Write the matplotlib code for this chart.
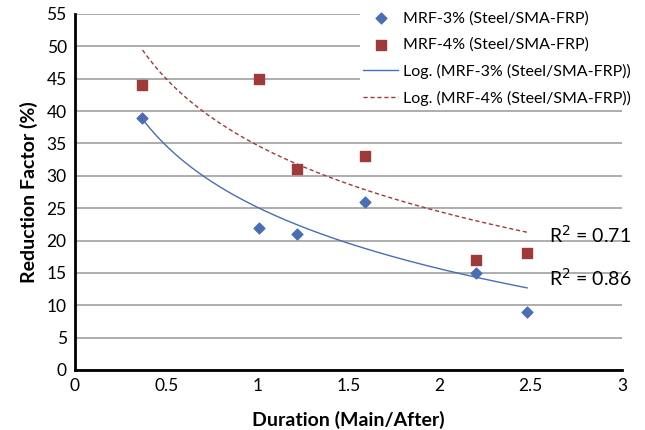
import numpy as np
import matplotlib
matplotlib.use('Agg')
import matplotlib.pyplot as plt

# data
duration = [0.37, 1.01, 1.22, 1.59, 2.2, 2.48]
mrf3 = [39, 22, 21, 26, 15, 9]
mrf4 = [44, 45, 31, 33, 17, 18]

yticks = list(range(0, 60, 5))
xticks = [0, 0.5, 1, 1.5, 2, 2.5, 3]
xtick_labels = ['0', '0.5', '1', '1.5', '2', '2.5', '3']

plt.rcParams['font.family'] = ['Lato', 'DejaVu Sans']

blue = '#4A6DB4'
red = '#9E3A38'


def log_fit(x, y):
    # Excel style log trendline: y = a*ln(x) + b
    lx = np.log(x)
    a, b = np.polyfit(lx, y, 1)
    pred = a * lx + b
    r2 = 1 - np.sum((np.array(y) - pred) ** 2) / np.sum((np.array(y) - np.mean(y)) ** 2)
    return a, b, r2


fig = plt.figure(figsize=(6.45, 4.3), dpi=100)
ax = fig.add_axes([75 / 645, 60 / 430, 547 / 645, 356 / 430])

ax.scatter(duration, mrf3, marker='D', s=30, color=blue, zorder=3,
           label='MRF-3% (Steel/SMA-FRP)')
ax.scatter(duration, mrf4, marker='s', s=55, color=red, zorder=3,
           label='MRF-4% (Steel/SMA-FRP)')

xs = np.linspace(min(duration), max(duration), 200)
a3, b3, r3 = log_fit(duration, mrf3)
a4, b4, r4 = log_fit(duration, mrf4)
ax.plot(xs, a3 * np.log(xs) + b3, color=blue, lw=1.0, zorder=2,
        label='Log. (MRF-3% (Steel/SMA-FRP))')
ax.plot(xs, a4 * np.log(xs) + b4, color=red, lw=1.0, ls=(0, (3, 2)), zorder=2,
        label='Log. (MRF-4% (Steel/SMA-FRP))')

ax.text(2.6, 20.9, 'R$^2$ = 0.71', fontsize=14, ha='left', va='center')
ax.text(2.6, 14.3, 'R$^2$ = 0.86', fontsize=14, ha='left', va='center')

ax.set_xlim(0, 3)
ax.set_ylim(0, 55)
ax.set_xticks(xticks)
ax.set_xticklabels(xtick_labels)
ax.set_yticks(yticks)
ax.tick_params(length=0, labelsize=12.5, pad=6)
ax.grid(axis='y', color='#a0a0a0', lw=1.2)
ax.set_axisbelow(True)
for s in ['top', 'right']:
    ax.spines[s].set_visible(False)
for s in ['left', 'bottom']:
    ax.spines[s].set_linewidth(2)
    ax.spines[s].set_color('black')

ax.set_xlabel('Duration (Main/After)', fontsize=14, fontweight='bold', labelpad=12)
ax.set_ylabel('Reduction Factor (%)', fontsize=14, fontweight='bold', labelpad=6)

leg = fig.legend(loc='upper left', bbox_to_anchor=(352 / 645, 1.0), fontsize=11.5,
                 frameon=True, facecolor='white', edgecolor='none', framealpha=1,
                 handlelength=2.2, handletextpad=0.3, labelspacing=0.75,
                 borderpad=0.2, fancybox=False)
leg.set_zorder(5)

fig.savefig('out.png', dpi=100)
